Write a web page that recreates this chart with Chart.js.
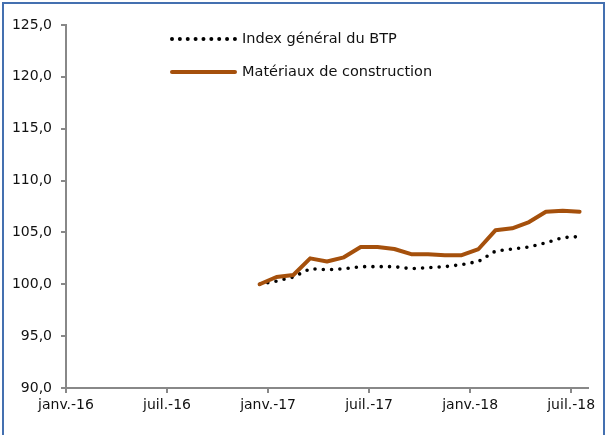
<!DOCTYPE html>
<html lang="fr">
<head>
<meta charset="UTF-8">
<title>Index BTP</title>
<script src="https://cdn.jsdelivr.net/npm/chart.js"></script>
<style>
  html, body { margin: 0; padding: 0; background: #fff; }
  #wrap { position: relative; width: 609px; height: 435px; overflow: hidden; font-family: "DejaVu Sans", sans-serif; }
  #cadre { position: absolute; left: 2px; top: 2px; width: 599px; height: 460px; border: 2px solid #4470b0; }
  #wrap canvas { position: absolute; left: 0; top: 0; }
  .leg { position: absolute; left: 170px; font-size: 14.5px; color: #111; white-space: nowrap; }
  .leg span.trait { display: inline-block; width: 67px; vertical-align: middle; margin-right: 5px; }
  #leg1 { top: 30px; }
  #leg2 { top: 63px; }
  #leg1 span.trait { border-top: 4px dotted #000; }
  #leg2 span.trait { border-top: 4px solid #a5500c; border-radius: 2px; }
</style>
</head>
<body>
<div id="wrap">
  <canvas id="graphe" width="609" height="435"></canvas>
  <div id="cadre"></div>
  <div class="leg" id="leg1"><span class="trait"></span>Index général du BTP</div>
  <div class="leg" id="leg2"><span class="trait"></span>Matériaux de construction</div>
</div>
<script>
// mois de déc.-16 à juil.-18 (premier mois = 11 mois après janv.-16)
var mois = ['déc.-16', 'janv.-17', 'févr.-17', 'mars-17', 'avr.-17', 'mai-17', 'juin-17',
            'juil.-17', 'août-17', 'sept.-17', 'oct.-17', 'nov.-17', 'déc.-17', 'janv.-18',
            'févr.-18', 'mars-18', 'avr.-18', 'mai-18', 'juin-18', 'juil.-18']
var premierMois = 11

var indexBTP = [100.0, 100.3, 100.7, 101.5, 101.4, 101.5, 101.7, 101.7, 101.7, 101.5,
                101.6, 101.7, 101.9, 102.2, 103.2, 103.4, 103.6, 104.0, 104.5, 104.6]
var materiaux = [100.0, 100.7, 100.9, 102.5, 102.2, 102.6, 103.6, 103.6, 103.4, 102.9,
                 102.9, 102.8, 102.8, 103.4, 105.2, 105.4, 106.0, 107.0, 107.1, 107.0]

var tickLabels = ['janv.-16', 'juil.-16', 'janv.-17', 'juil.-17', 'janv.-18', 'juil.-18']
var yTicks = [90, 95, 100, 105, 110, 115, 120, 125]

function points(valeurs) {
  var res = []
  for (var i = 0; i < valeurs.length; i++) {
    res.push({ x: premierMois + i + 0.5, y: valeurs[i] })
  }
  return res
}

var police = { family: 'DejaVu Sans', size: 14 }

new Chart(document.getElementById('graphe'), {
  type: 'line',
  data: {
    datasets: [
      {
        label: 'Matériaux de construction',
        data: points(materiaux),
        borderColor: '#a5500c',
        borderWidth: 4,
        pointRadius: 0,
        tension: 0,
        borderJoinStyle: 'round',
        borderCapStyle: 'round'
      },
      {
        label: 'Index général du BTP',
        data: points(indexBTP),
        borderColor: '#000',
        borderWidth: 3.6,
        borderDash: [0, 8.3],
        borderCapStyle: 'round',
        pointRadius: 0,
        tension: 0
      }
    ]
  },
  options: {
    responsive: false,
    animation: false,
    layout: { padding: { top: 25, right: 21, left: 0, bottom: 0 } },
    plugins: { legend: { display: false }, tooltip: { enabled: false } },
    scales: {
      x: {
        type: 'linear',
        min: 0,
        max: 31,
        afterFit: function (s) { s.height = 47 },
        afterBuildTicks: function (s) {
          s.ticks = tickLabels.map(function (t, i) { return { value: i * 6 } })
        },
        ticks: {
          autoSkip: false,
          maxRotation: 0,
          padding: 4,
          color: '#111',
          font: police,
          callback: function (v) { return tickLabels[v / 6] }
        },
        grid: { drawOnChartArea: false, drawTicks: true, tickLength: 5, color: '#888', lineWidth: 2 },
        border: { color: '#888', width: 2 }
      },
      y: {
        min: 90,
        max: 125,
        afterFit: function (s) { s.width = 66 },
        afterBuildTicks: function (s) {
          s.ticks = yTicks.map(function (v) { return { value: v } })
        },
        ticks: {
          padding: 9,
          color: '#111',
          font: police,
          callback: function (v) { return v.toFixed(1).replace('.', ',') }
        },
        grid: { drawOnChartArea: false, drawTicks: true, tickLength: 5, color: '#888', lineWidth: 2 },
        border: { color: '#888', width: 2 }
      }
    }
  }
})
</script>
</body>
</html>
